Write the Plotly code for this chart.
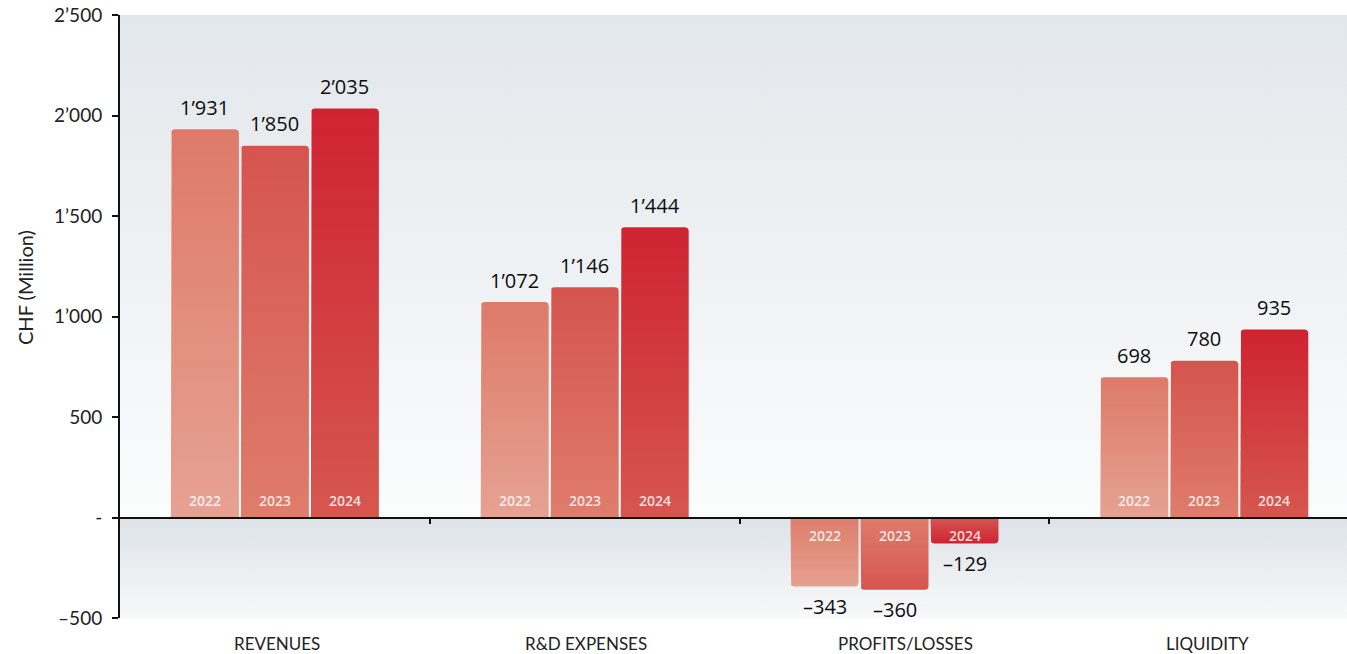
import numpy as np
import plotly.graph_objects as go

# ---------------- data ----------------
categories = ["REVENUES", "R&D EXPENSES", "PROFITS/LOSSES", "LIQUIDITY"]
years = ["2022", "2023", "2024"]
values_2022 = [1931, 1072, -343, 698]
values_2023 = [1850, 1146, -360, 780]
values_2024 = [2035, 1444, -129, 935]
y_tickvals = [-500, 0, 500, 1000, 1500, 2000, 2500]
y_ticktext = ["–500", "-", "500", "1’000", "1’500", "2’000", "2’500"]
y_title = "CHF (Million)"

series = [values_2022, values_2023, values_2024]

# ---------------- style ----------------
W, H = 1347, 654
ML, MR, MT, MB = 120, 0, 15, 36
XMIN = -0.5
CAT_PX = 309.8
plot_w = W - ML - MR
plot_h = H - MT - MB
XMAX = XMIN + plot_w / CAT_PX
YMIN, YMAX = -500, 2500
px_x = plot_w / (XMAX - XMIN)
px_y = plot_h / (YMAX - YMIN)

bar_step = 70 / px_x
bar_w = 68 / px_x
radius_px = 3.5

# gradient colours (top, bottom) in screen orientation
pos_grad = [("#DE7A69", "#E6A292"), ("#D5544E", "#DF7D6C"), ("#CF2331", "#D6574F")]
neg_grad = [("#DE7D6C", "#E6A191"), ("#DE7C6B", "#D6564F"), ("#D6574F", "#CF2331")]

label_fmt = lambda v: ("–" if v < 0 else "") + f"{abs(v):,}".replace(",", "’")

fig = go.Figure()

# background gradients (plot area)
fig.add_trace(go.Scatter(
    x=[XMIN, XMAX, XMAX, XMIN, XMIN], y=[0, 0, YMAX, YMAX, 0],
    mode="lines", line=dict(width=0), fill="toself", hoverinfo="skip",
    fillgradient=dict(type="vertical", start=0, stop=YMAX,
                      colorscale=[[0, "#FBFCFC"], [1, "#E2E7EB"]]),
))
fig.add_trace(go.Scatter(
    x=[XMIN, XMAX, XMAX, XMIN, XMIN], y=[YMIN, YMIN, 0, 0, YMIN],
    mode="lines", line=dict(width=0), fill="toself", hoverinfo="skip",
    fillgradient=dict(type="vertical", start=YMIN, stop=0,
                      colorscale=[[0, "#F8F9FA"], [1, "#DDE3E8"]]),
))


def bar_path(xc, v):
    x0, x1 = xc - bar_w / 2, xc + bar_w / 2
    s = 1 if v >= 0 else -1
    rx = radius_px / px_x
    ry = radius_px / px_y
    xs, ys = [x0], [0]
    for t in np.linspace(np.pi, np.pi / 2, 6):
        xs.append(x0 + rx + rx * np.cos(t))
        ys.append(v - s * ry + s * ry * np.sin(t))
    for t in np.linspace(np.pi / 2, 0, 6):
        xs.append(x1 - rx + rx * np.cos(t))
        ys.append(v - s * ry + s * ry * np.sin(t))
    xs += [x1, x0]
    ys += [0, 0]
    return xs, ys


annotations = []
for k, vals in enumerate(series):
    for i, v in enumerate(vals):
        xc = i + (k - 1) * bar_step
        xs, ys = bar_path(xc, v)
        top_c, bot_c = (pos_grad[k] if v >= 0 else neg_grad[k])
        fig.add_trace(go.Scatter(
            x=xs, y=ys, mode="lines", line=dict(width=0), fill="toself",
            hoverinfo="skip",
            fillgradient=dict(type="vertical", start=min(0, v), stop=max(0, v),
                              colorscale=[[0, bot_c], [1, top_c]]),
        ))
        annotations.append(dict(
            x=xc, y=v, xref="x", yref="y", text=label_fmt(v), showarrow=False,
            yanchor="middle", yshift=22 if v >= 0 else -20,
            font=dict(family="Open Sans", size=20, color="#0d0d0d"),
        ))
        annotations.append(dict(
            x=xc, y=0, xref="x", yref="y", text=years[k], showarrow=False,
            yanchor="middle", yshift=17 if v >= 0 else -18,
            font=dict(family="Open Sans", size=14, color="rgba(255,255,255,0.82)", weight=600),
        ))

cat_xshift = [2, 1, 11, 3]
for i, c in enumerate(categories):
    annotations.append(dict(
        x=i, y=0, xref="x", yref="paper", text=c, showarrow=False,
        yanchor="middle", yshift=-25, xshift=cat_xshift[i],
        font=dict(family="Lato", size=17, color="#222222"),
    ))

# y-axis title
annotations.append(dict(
    x=0, xref="paper", xshift=-95, y=(H - MB - 288) / plot_h, yref="paper",
    text=y_title, textangle=-90, showarrow=False,
    xanchor="center", yanchor="middle",
    font=dict(family="Lato", size=20, color="#222222"),
))

fig.update_layout(
    width=W, height=H,
    margin=dict(l=ML, r=MR, t=MT, b=MB, pad=0),
    paper_bgcolor="white", plot_bgcolor="white",
    showlegend=False,
    annotations=annotations,
    xaxis=dict(
        range=[XMIN, XMAX], anchor="free", position=(0 - YMIN) / (YMAX - YMIN),
        tickvals=[0.5, 1.5, 2.5], ticks="outside", ticklen=5, tickwidth=1.5,
        tickcolor="#111111", showline=True, linecolor="#111111", linewidth=2,
        showticklabels=False, showgrid=False, zeroline=False, fixedrange=True,
    ),
    yaxis=dict(
        range=[YMIN, YMAX], tickvals=y_tickvals, ticktext=y_ticktext,
        ticks="outside", ticklen=6, tickwidth=2, tickcolor="#111111",
        showline=True, linecolor="#111111", linewidth=2,
        showgrid=False, zeroline=False, fixedrange=True,
        ticklabelstandoff=6,
        tickfont=dict(family="Lato", size=19, color="#222222"),
    ),
)

fig.write_html(
    "out.html",
    config={"displayModeBar": False},
    post_script="document.body.style.margin='0px';document.body.style.padding='0px';document.body.style.overflow='hidden';",
)
